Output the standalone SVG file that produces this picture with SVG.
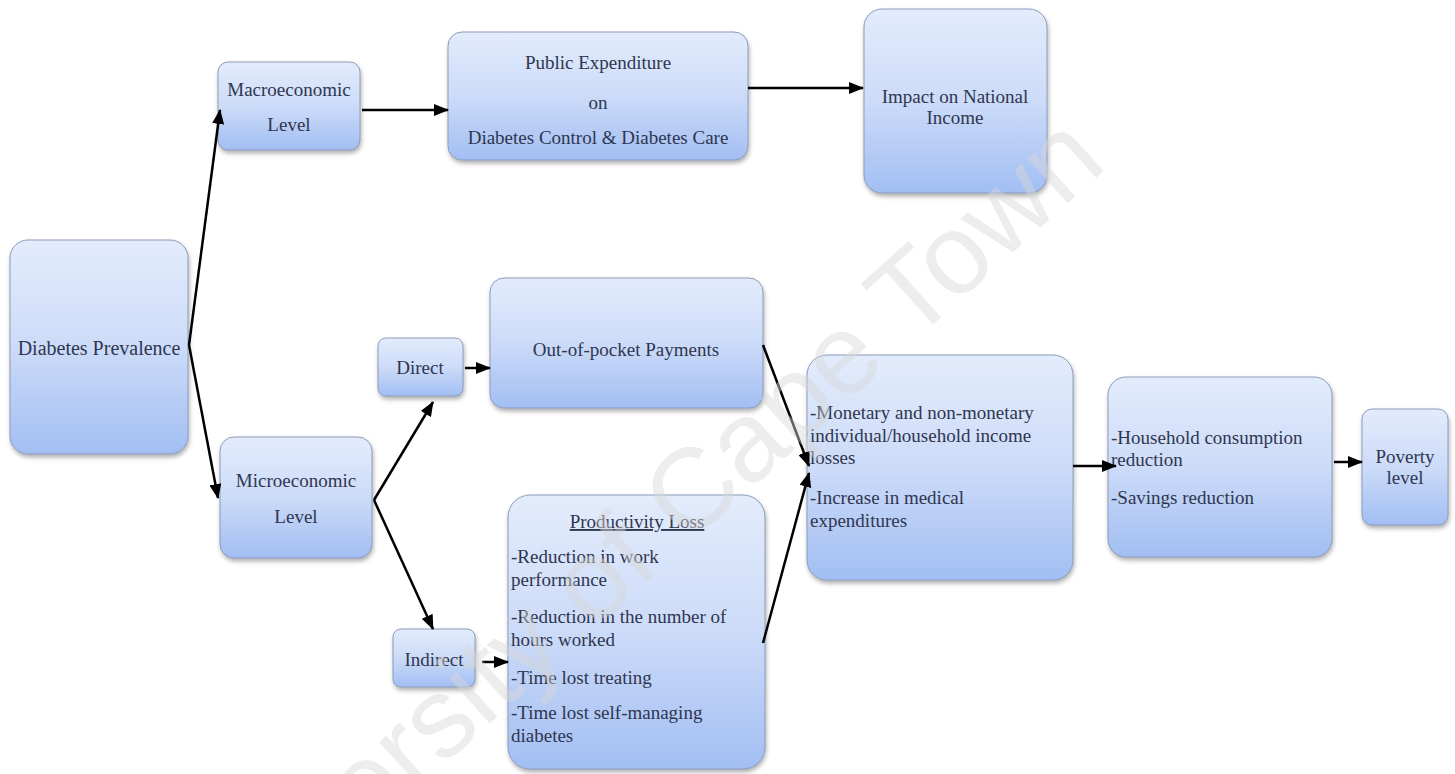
<svg xmlns="http://www.w3.org/2000/svg" width="1455" height="774" viewBox="0 0 1455 774">
<defs>
<linearGradient id="g" x1="0" y1="0" x2="0" y2="1">
<stop offset="0" stop-color="#e3ecfc"/>
<stop offset="0.5" stop-color="#ccdbf8"/>
<stop offset="1" stop-color="#a2bef3"/>
</linearGradient>
<filter id="sh" x="-10%" y="-10%" width="120%" height="125%">
<feDropShadow dx="1" dy="3" stdDeviation="2" flood-color="#555" flood-opacity="0.45"/>
</filter>
<marker id="ah" markerUnits="userSpaceOnUse" markerWidth="15" markerHeight="12" refX="14" refY="6" orient="auto">
<path d="M0,0 L15,6 L0,12 z" fill="#000"/>
</marker>
<style>
.box{fill:url(#g);stroke:#8c9cbd;stroke-width:1;filter:url(#sh)}
.t{font-family:"Liberation Serif","Times New Roman",serif;font-size:19px;fill:#2f3650}
.c{text-anchor:middle}
.con path{fill:none;stroke:#000;stroke-width:2.5;marker-end:url(#ah)}
</style>
</defs>
<rect width="1455" height="774" fill="#fff"/>

<g id="n-prevalence">
<rect class="box" x="10" y="240" width="178" height="214" rx="18"/>
<text class="t c" x="99" y="355" style="font-size:20px">Diabetes Prevalence</text>
</g>
<g id="n-macro">
<rect class="box" x="218" y="62" width="142" height="88" rx="10"/>
<text class="t c" x="289" y="96">Macroeconomic</text>
<text class="t c" x="289" y="131">Level</text>
</g>
<g id="n-public">
<rect class="box" x="448" y="32" width="300" height="128" rx="14"/>
<text class="t c" x="598" y="69">Public Expenditure</text>
<text class="t c" x="598" y="109">on</text>
<text class="t c" x="598" y="144">Diabetes Control &amp; Diabetes Care</text>
</g>
<g id="n-impact">
<rect class="box" x="864" y="9" width="183" height="184" rx="18"/>
<text class="t c" x="955" y="103">Impact on National</text>
<text class="t c" x="955" y="124">Income</text>
</g>
<g id="n-micro">
<rect class="box" x="220" y="437" width="152" height="121" rx="14"/>
<text class="t c" x="296" y="487">Microeconomic</text>
<text class="t c" x="296" y="523">Level</text>
</g>
<g id="n-direct">
<rect class="box" x="378" y="338" width="85" height="58" rx="8"/>
<text class="t c" x="420" y="374">Direct</text>
</g>
<g id="n-oop">
<rect class="box" x="490" y="278" width="273" height="130" rx="14"/>
<text class="t c" x="626" y="356">Out-of-pocket Payments</text>
</g>
<g id="n-indirect">
<rect class="box" x="393" y="629" width="82" height="58" rx="8"/>
<text class="t c" x="434" y="666">Indirect</text>
</g>
<g id="n-productivity">
<rect class="box" x="508" y="495" width="257" height="274" rx="22"/>
<text class="t c" x="637" y="528" text-decoration="underline">Productivity Loss</text>
<text class="t" x="511" y="563">-Reduction in work</text>
<text class="t" x="511" y="586">performance</text>
<text class="t" x="511" y="623">-Reduction in the number of</text>
<text class="t" x="511" y="646">hours worked</text>
<text class="t" x="511" y="684">-Time lost treating</text>
<text class="t" x="511" y="719">-Time lost self-managing</text>
<text class="t" x="511" y="742">diabetes</text>
</g>
<g id="n-income">
<rect class="box" x="807" y="355" width="266" height="225" rx="20"/>
<text class="t" x="810" y="419">-Monetary and non-monetary</text>
<text class="t" x="810" y="442">individual/household income</text>
<text class="t" x="810" y="464">losses</text>
<text class="t" x="810" y="504">-Increase in medical</text>
<text class="t" x="810" y="527">expenditures</text>
</g>
<g id="n-household">
<rect class="box" x="1108" y="377" width="224" height="180" rx="18"/>
<text class="t" x="1111" y="444">-Household consumption</text>
<text class="t" x="1111" y="466">reduction</text>
<text class="t" x="1111" y="504">-Savings reduction</text>
</g>
<g id="n-poverty">
<rect class="box" x="1362" y="409" width="86" height="116" rx="10"/>
<text class="t c" x="1405" y="463">Poverty</text>
<text class="t c" x="1405" y="484">level</text>
</g>

<g id="connectors" class="con">
<path d="M189,345 L220,110"/>
<path d="M189,345 L218,498"/>
<path d="M362,110 L448,110"/>
<path d="M748,88 L863,88"/>
<path d="M374,500 L433,402"/>
<path d="M374,500 L433,629"/>
<path d="M465,368 L490,368"/>
<path d="M482,662 L508,662"/>
<path d="M763,345 L809,466"/>
<path d="M763,643 L809,473"/>
<path d="M1073,466 L1116,466"/>
<path d="M1334,462 L1362,462"/>
</g>

<g id="watermark">
<text x="1109" y="166" transform="rotate(-42 1109 166)" text-anchor="end" style="font-family:'Liberation Sans',Arial,sans-serif;font-size:114px;fill:#d8d8d8;opacity:0.45">University of Cape Town</text>
</g>
</svg>
